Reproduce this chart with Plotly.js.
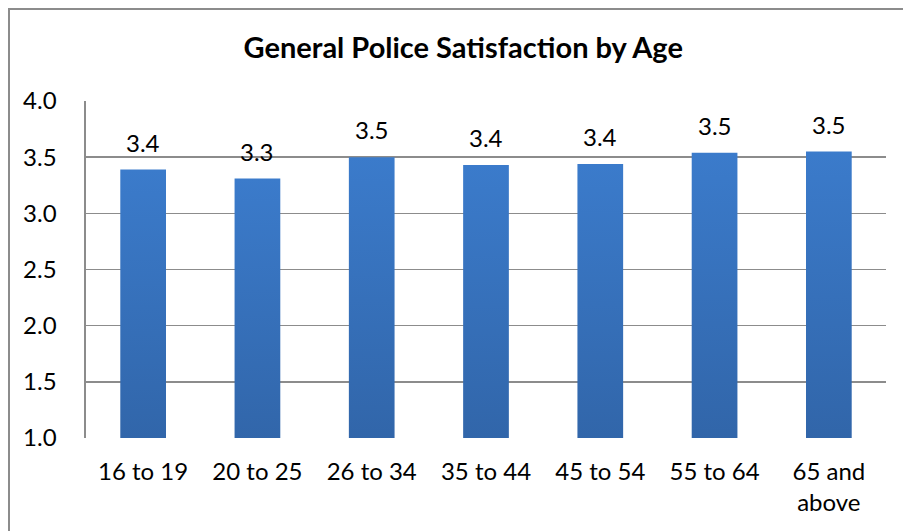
<!DOCTYPE html>
<html>
<head>
<meta charset="utf-8">
<script src="https://cdn.plot.ly/plotly-3.0.1.min.js"></script>
<style>
  html, body { margin: 0; padding: 0; background: #fff; }
  #chart { width: 903px; height: 531px; position: absolute; left: 0; top: 0; }
  #frame { position: absolute; left: 8px; top: 8px; width: 1000px; height: 600px;
           border-left: 2px solid #8c8c8c; border-top: 2px solid #8c8c8c; pointer-events: none; }
</style>
</head>
<body>
<div id="chart"></div>
<div id="frame"></div>
<script>
const ageGroups = ["16 to 19", "20 to 25", "26 to 34", "35 to 44", "45 to 54", "55 to 64", "65 and<br>above"];
const satisfaction = [3.39, 3.31, 3.50, 3.43, 3.44, 3.54, 3.55];
const yTicks = [1.0, 1.5, 2.0, 2.5, 3.0, 3.5, 4.0];
const chartTitle = "General Police Satisfaction by Age";

const FONT = "Lato, 'Open Sans', sans-serif";

const trace = {
  type: "bar",
  x: ageGroups,
  y: satisfaction,
  marker: { color: "#3469B3", line: { width: 0 } },
  hoverinfo: "x+y"
};

const labels = ageGroups.map(function (g, i) {
  return {
    x: g, y: satisfaction[i], xref: "x", yref: "y",
    text: satisfaction[i].toFixed(1),
    showarrow: false, yanchor: "bottom", yshift: 11,
    font: { family: FONT, size: 24, color: "#000" }
  };
});

const layout = {
  width: 903,
  height: 531,
  margin: { l: 86, r: 17, t: 101, b: 93 },
  paper_bgcolor: "#fff",
  plot_bgcolor: "#fff",
  showlegend: false,
  bargap: 0.6,
  annotations: labels,
  title: {
    text: "<b>" + chartTitle + "</b>",
    font: { family: FONT, size: 29, color: "#000" },
    x: 0.513, xref: "container", xanchor: "center",
    y: 0.909, yref: "container", yanchor: "middle"
  },
  xaxis: {
    type: "category",
    showgrid: false,
    showline: false,
    zeroline: false,
    ticks: "",
    tickfont: { family: FONT, size: 24, color: "#000" },
    ticklabelstandoff: 17
  },
  yaxis: {
    range: [1, 4],
    tickvals: yTicks,
    tickformat: ".1f",
    showgrid: true,
    gridcolor: "#8c8c8c",
    gridwidth: 1.6,
    showline: true,
    linecolor: "#8c8c8c",
    linewidth: 1.6,
    zeroline: false,
    ticks: "",
    ticklen: 0,
    tickfont: { family: FONT, size: 24, color: "#000" },
    ticklabelstandoff: 23
  }
};

Plotly.newPlot("chart", [trace], layout, { displayModeBar: false, staticPlot: true }).then(function (gd) {
  const svg = gd.querySelector("svg.main-svg");
  const ns = "http://www.w3.org/2000/svg";
  let defs = svg.querySelector("defs");
  if (!defs) { defs = document.createElementNS(ns, "defs"); svg.insertBefore(defs, svg.firstChild); }
  const grad = document.createElementNS(ns, "linearGradient");
  grad.setAttribute("id", "barGrad");
  grad.setAttribute("x1", "0"); grad.setAttribute("y1", "0");
  grad.setAttribute("x2", "0"); grad.setAttribute("y2", "1");
  const s1 = document.createElementNS(ns, "stop");
  s1.setAttribute("offset", "0"); s1.setAttribute("stop-color", "#3B7BCB");
  const s2 = document.createElementNS(ns, "stop");
  s2.setAttribute("offset", "1"); s2.setAttribute("stop-color", "#2D5D9C");
  grad.appendChild(s1); grad.appendChild(s2);
  defs.appendChild(grad);
  gd.querySelectorAll(".barlayer .point path").forEach(function (p) {
    p.style.fill = "url(#barGrad)";
  });
});
</script>
</body>
</html>
